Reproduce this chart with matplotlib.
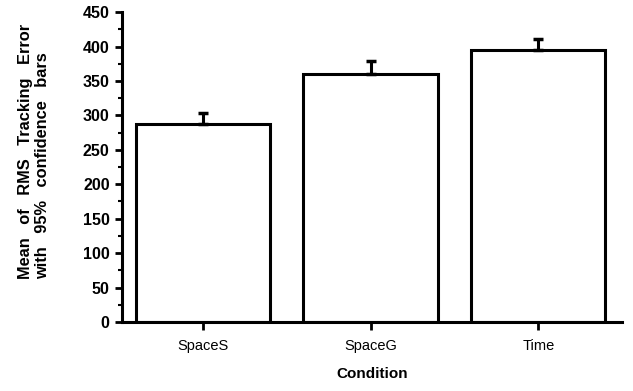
import matplotlib
matplotlib.use("Agg")
import matplotlib.pyplot as plt
from matplotlib.ticker import MultipleLocator

plt.rcParams['font.family'] = ['Liberation Sans', 'DejaVu Sans']

categories = ["SpaceS", "SpaceG", "Time"]
means = [287, 360, 395]
ci_upper = [16, 19, 16]

fig = plt.figure(figsize=(6.33, 3.91), dpi=100)
ax = fig.add_axes([0.193, 0.1765, 0.790, 0.7925])

x = list(range(len(categories)))
ax.bar(x, means, width=0.8, color="white", edgecolor="black", linewidth=2.2, zorder=2)
ax.errorbar(x, means, yerr=[[0] * len(means), ci_upper], fmt="none", ecolor="black",
            elinewidth=2.2, capsize=3.5, capthick=2.5, zorder=3)

ax.set_xlim(-0.48, 2.5)
ax.set_ylim(0, 450)
ax.yaxis.set_major_locator(MultipleLocator(50))
ax.yaxis.set_minor_locator(MultipleLocator(25))
ax.set_xticks(x)
ax.set_xticklabels(categories, fontsize=10.5)
for lbl in ax.get_yticklabels():
    lbl.set_fontsize(11.5)
    lbl.set_fontweight("bold")

for s in ["top", "right"]:
    ax.spines[s].set_visible(False)
for s in ["left", "bottom"]:
    ax.spines[s].set_linewidth(2.2)

ax.tick_params(axis="y", which="major", direction="out", length=5, width=2, pad=4)
ax.tick_params(axis="y", which="minor", direction="out", length=3, width=1.5)
ax.tick_params(axis="x", which="major", direction="out", length=6, width=2, pad=6)

ax.set_ylabel("Mean   of   RMS   Tracking   Error\nwith   95%   confidence   bars",
              fontsize=11.8, fontweight="bold", linespacing=1.2, multialignment="left")
ax.yaxis.set_label_coords(-0.144, 0.552)
ax.set_xlabel("Condition", fontsize=11, fontweight="bold", labelpad=10)

fig.savefig("out.png", dpi=100)
